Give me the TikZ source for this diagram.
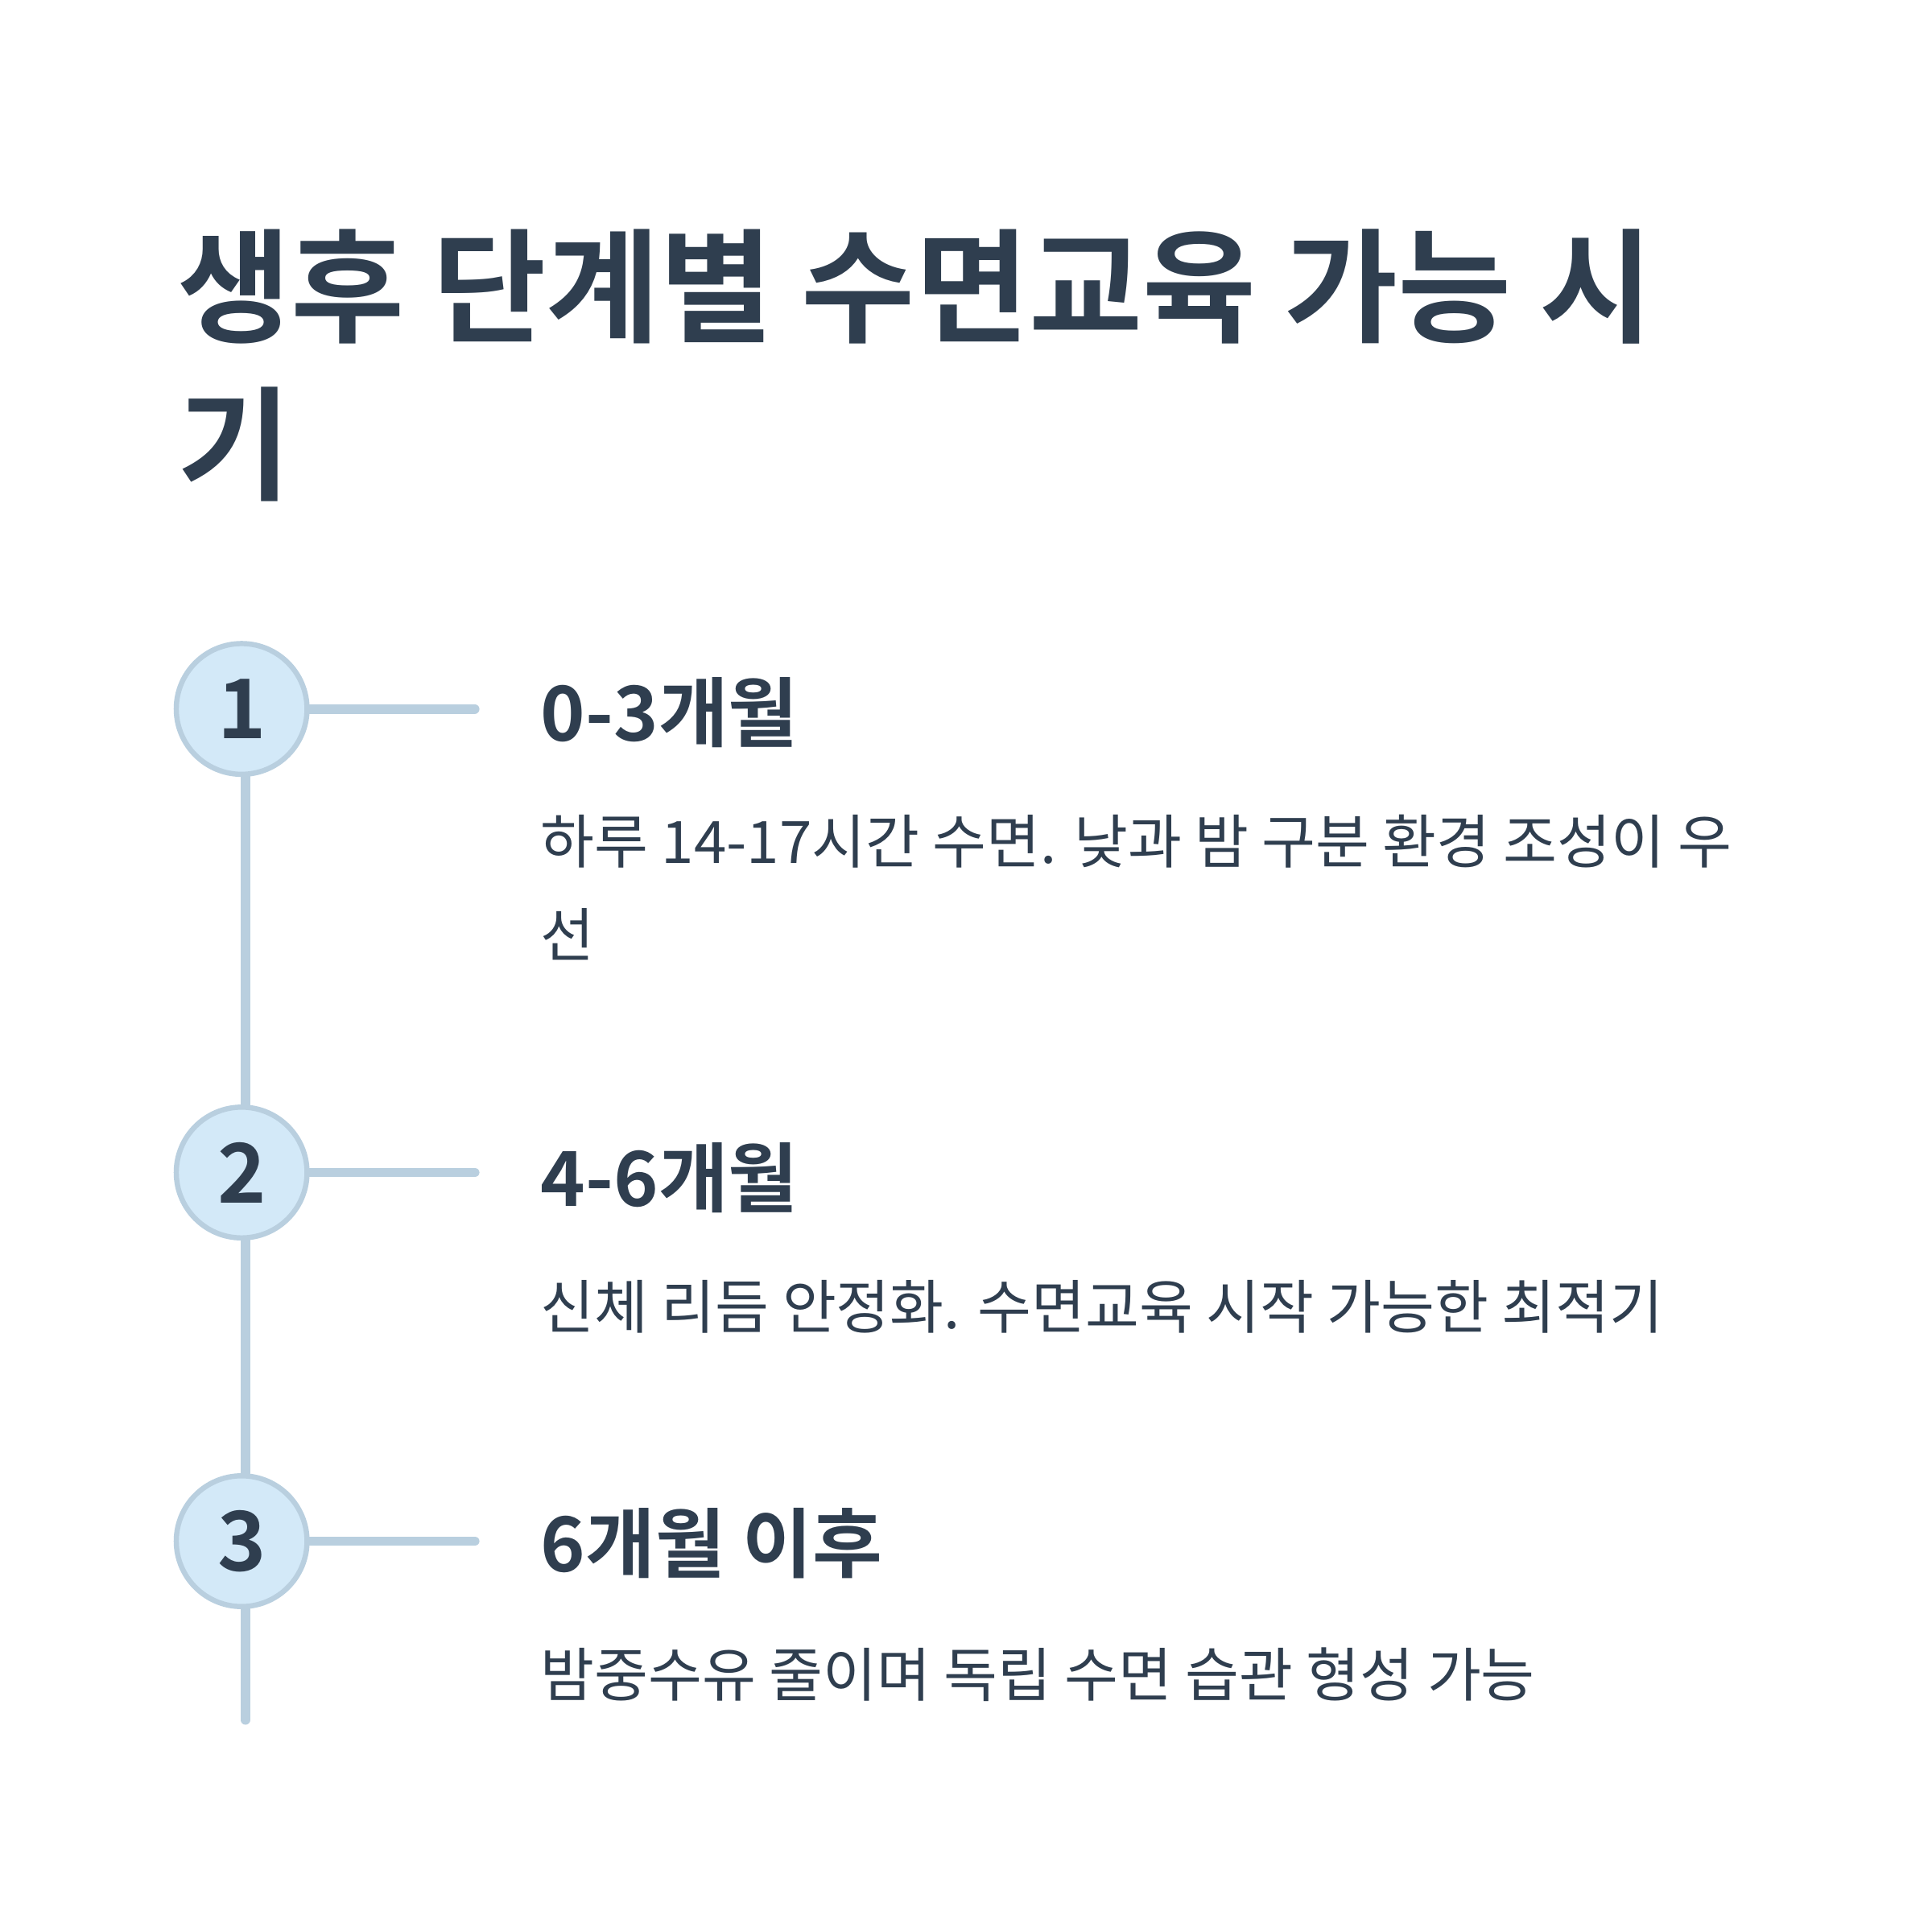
\documentclass[tikz,border=0pt]{standalone}
\usepackage{fontspec}
\setmainfont{Noto Sans CJK KR}
\newfontfamily\krbold{Noto Sans CJK KR Bold}
\definecolor{ink}{HTML}{2F3E4F}
\definecolor{lnc}{HTML}{B9CFDF}
\definecolor{cfill}{HTML}{D3E9F8}
\begin{document}
\begin{tikzpicture}[x=0.01cm,y=-0.01cm,
  stepnum/.style={circle,draw=lnc,line width=1.2pt,fill=cfill,minimum size=1.06cm,inner sep=0pt,text=ink,font=\krbold\fontsize{19}{19}\selectfont},
  head/.style={anchor=west,inner sep=0pt,text=ink,font=\krbold\fontsize{17.5}{17.5}\selectfont},
  body/.style={anchor=west,inner sep=0pt,text=ink,align=left,font=\fontsize{13.5}{21.5}\selectfont},
  conn/.style={draw=lnc,line width=2.2pt,line cap=round}]
\useasboundingbox (0,0) rectangle (1567,1567);
\node[anchor=north west,inner sep=0pt,text=ink,align=left,font=\krbold\fontsize{28.5}{36.5}\selectfont] (title) at (143,185) {생후 단계별 수면교육 가능 시\\기};
\coordinate (e) at (199,1395);
\draw[conn] (199,628) -- (e);
\node[stepnum] (s1) at (196,575) {1};
\node[stepnum] (s2) at (196,951) {2};
\node[stepnum] (s3) at (196,1250) {3};
\coordinate (h1) at (385,575);
\coordinate (h2) at (385,951);
\coordinate (h3) at (385,1250);
\draw[conn] (s1) -- (h1);
\draw[conn] (s2) -- (h2);
\draw[conn] (s3) -- (h3);
\node[head] (t1) at (438,578) {0-3개월};
\node[body,anchor=north west] (b1) at (438,660) {하루 14-17시간 수면. 낮과 밤 구분 환경 조성이 우\\선};
\node[head] (t2) at (438,955) {4-6개월};
\node[body] (b2) at (438,1060) {신체 리듬 안정화. 수면교육 시작 가능한 최적기};
\node[head] (t3) at (438,1252) {6개월 이후};
\node[body] (b3) at (438,1358) {밤중수유 줄이며 독립 수면 습관 형성 가능};
\end{tikzpicture}
\end{document}
